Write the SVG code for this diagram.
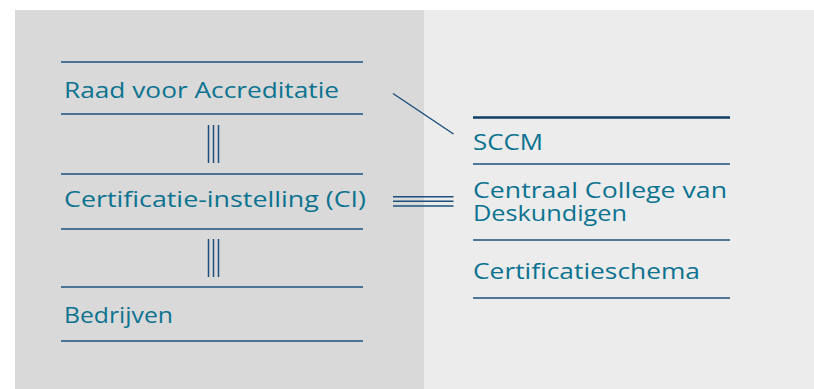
<svg xmlns="http://www.w3.org/2000/svg" width="814" height="389" viewBox="0 0 814 389">
  <style>
    .lbl { font-family: "Open Sans", "Liberation Sans", sans-serif; font-size: 22px; fill: #0b7390; }
    .rule { stroke: #1d4f7c; stroke-width: 1.6; fill: none; }
    .conn { stroke: #1d4f7c; stroke-width: 1.5; fill: none; }
  </style>
  <rect x="0" y="0" width="814" height="389" fill="#ffffff"/>
  <rect id="panel-left" x="15" y="10" width="409" height="379" fill="#d9d9d9"/>
  <rect id="panel-right" x="424" y="10" width="390" height="379" fill="#ececec"/>

  <g id="node-rva">
    <line class="rule" x1="61" y1="62" x2="363" y2="62"/>
    <text class="lbl" x="64" y="97.5" textLength="275" lengthAdjust="spacingAndGlyphs">Raad voor Accreditatie</text>
    <line class="rule" x1="61" y1="114" x2="363" y2="114"/>
  </g>
  <g id="node-ci">
    <line class="rule" x1="61" y1="174" x2="363" y2="174"/>
    <text class="lbl" x="64" y="207" textLength="302" lengthAdjust="spacingAndGlyphs">Certificatie-instelling (CI)</text>
    <line class="rule" x1="61" y1="229" x2="363" y2="229"/>
  </g>
  <g id="node-bedrijven">
    <line class="rule" x1="61" y1="287" x2="363" y2="287"/>
    <text class="lbl" x="64" y="322.5" textLength="109" lengthAdjust="spacingAndGlyphs">Bedrijven</text>
    <line class="rule" x1="61" y1="341" x2="363" y2="341"/>
  </g>
  <g id="node-sccm">
    <line x1="473" y1="117.5" x2="730" y2="117.5" stroke="#123d66" stroke-width="2.6"/>
    <text class="lbl" x="473" y="149.5" textLength="70" lengthAdjust="spacingAndGlyphs">SCCM</text>
    <line class="rule" x1="473" y1="164" x2="730" y2="164"/>
  </g>
  <g id="node-ccvd">
    <text class="lbl"><tspan x="473" y="197.5" textLength="254" lengthAdjust="spacingAndGlyphs">Centraal College van</tspan><tspan x="473" y="220.5" textLength="154" lengthAdjust="spacingAndGlyphs">Deskundigen</tspan></text>
    <line class="rule" x1="473" y1="240" x2="730" y2="240"/>
  </g>
  <g id="node-schema">
    <text class="lbl" x="473" y="278.5" textLength="227" lengthAdjust="spacingAndGlyphs">Certificatieschema</text>
    <line class="rule" x1="473" y1="298" x2="730" y2="298"/>
  </g>

  <g id="connectors">
    <line class="conn" x1="208.5" y1="125" x2="208.5" y2="163"/>
    <line class="conn" x1="213.5" y1="125" x2="213.5" y2="163"/>
    <line class="conn" x1="218.5" y1="125" x2="218.5" y2="163"/>
    <line class="conn" x1="208.5" y1="239" x2="208.5" y2="277"/>
    <line class="conn" x1="213.5" y1="239" x2="213.5" y2="277"/>
    <line class="conn" x1="218.5" y1="239" x2="218.5" y2="277"/>
    <line class="conn" x1="393" y1="93.5" x2="453.5" y2="134" stroke="#123d66"/>
    <line class="conn" x1="393" y1="196.7" x2="453.5" y2="196.7"/>
    <line class="conn" x1="393" y1="201.3" x2="453.5" y2="201.3"/>
    <line class="conn" x1="393" y1="206" x2="453.5" y2="206"/>
  </g>
</svg>
